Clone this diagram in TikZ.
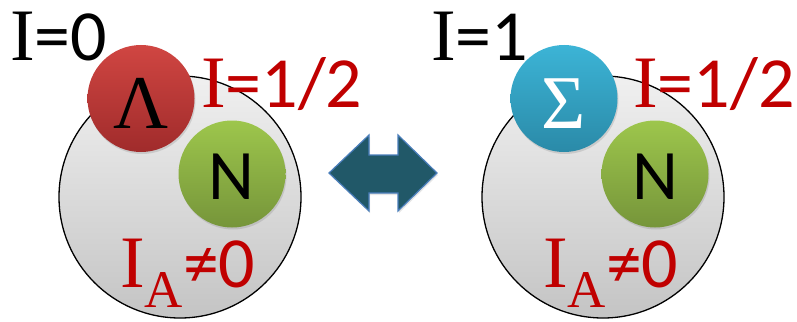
\documentclass[tikz,border=0pt]{standalone}
\usepackage{fontspec}
\setmainfont{Carlito}
\newfontfamily\serif{Liberation Serif}
\usetikzlibrary{shadows,calc}
\definecolor{redtxt}{HTML}{C00000}
\definecolor{lamtop}{HTML}{D04642}
\definecolor{lambot}{HTML}{A02B2B}
\definecolor{grntop}{HTML}{9DC64C}
\definecolor{grnbot}{HTML}{76953A}
\definecolor{blutop}{HTML}{3CB4D6}
\definecolor{blubot}{HTML}{2A8AA8}
\definecolor{graytop}{HTML}{F0F0F0}
\definecolor{graybot}{HTML}{C4C4C4}
\definecolor{arrfill}{HTML}{215868}
\definecolor{arrline}{HTML}{4A7EBB}
\tikzset{
  nucleus/.style={circle, draw=black, line width=1.3pt, top color=graytop, bottom color=graybot, inner sep=0pt, minimum size=242pt},
  ball/.style={circle, inner sep=0pt, minimum size=107pt, drop shadow={opacity=0.25, shadow xshift=1pt, shadow yshift=-2pt}},
  lamball/.style={ball, top color=lamtop, bottom color=lambot},
  grnball/.style={ball, top color=grntop, bottom color=grnbot},
  bluball/.style={ball, top color=blutop, bottom color=blubot},
  lbl/.style={inner sep=0pt, anchor=base west},
  big/.style={font=\fontsize{72}{74}\selectfont},
  redlbl/.style={lbl, text=redtxt, font=\fontsize{72}{74}\selectfont},
  glyph/.style={inner sep=0pt, anchor=base},
}
\newcommand{\iser}{{\serif\fontsize{74}{74}\selectfont I}}
\newcommand{\ia}{\iser\raisebox{-20pt}{\serif\fontsize{53}{53}\selectfont A}}
\begin{document}
\begin{tikzpicture}[x=1pt,y=-1pt]
\useasboundingbox (0,0) rectangle (797,321);
\fill[white] (0,0) rectangle (797,321);
% left
\node[nucleus] (nucL) at (180,197) {};
\node[lamball] (lam) at (141,98.5) {};
\node[grnball] (nL) at (232,174) {};
\node[glyph, font=\serif\fontsize{76}{76}\selectfont] (lamt) at (141.5,128) {Λ};
\node[glyph, font=\fontsize{71}{71}\selectfont] (nLt) at (231.5,199) {N};
\node[lbl, big] (i0) at (10,60) {\iser=0};
\node[redlbl] (ihL) at (201,107) {\iser=1/2};
\node[redlbl] (iaL) at (120,287) {\ia≠0};
% arrow
\draw[arrline, fill=arrfill, line width=1.2pt, line join=miter, drop shadow={opacity=0.2, shadow xshift=1pt, shadow yshift=-2pt}]
  (329,173) -- (369,135) -- (369,155) -- (398,155) -- (398,135) -- (437,173)
  -- (398,211) -- (398,193) -- (369,193) -- (369,211) -- cycle;
% right
\node[nucleus] (nucR) at (603,197) {};
\node[bluball] (sig) at (564,98.5) {};
\node[grnball] (nR) at (655,174) {};
\node[glyph, text=white, font=\serif\fontsize{76}{76}\selectfont] (sigt) at (564,128) {Σ};
\node[glyph, font=\fontsize{71}{71}\selectfont] (nRt) at (655.5,199) {N};
\node[lbl, big] (i1) at (431,60) {\iser=1};
\node[redlbl] (ihR) at (633,107) {\iser=1/2};
\node[redlbl] (iaR) at (543,287) {\ia≠0};
\end{tikzpicture}
\end{document}
